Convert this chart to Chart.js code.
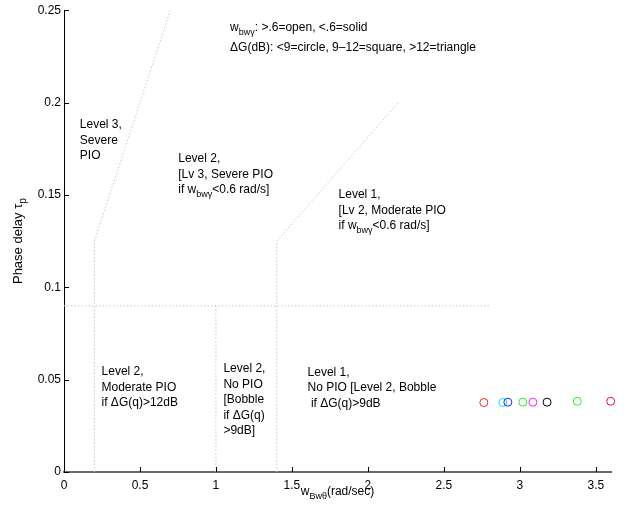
<!DOCTYPE html>
<html><head><meta charset="utf-8">
<script src="https://cdn.jsdelivr.net/npm/chart.js@4/dist/chart.umd.min.js"></script>
<style>html,body{margin:0;padding:0;background:#fff}#wrap{width:626px;height:513px}</style>
</head><body><div id="wrap"><canvas id="c" width="626" height="513"></canvas></div>
<script>
// ---- data ----
const pointX = [2.763, 2.888, 2.921, 3.020, 3.086, 3.179, 3.378, 3.598];
const pointY = [0.0376, 0.0376, 0.0378, 0.0378, 0.0378, 0.0378, 0.0383, 0.0383];
const pointColors = ['#ff2020', '#00e8f0', '#2020ff', '#20f020', '#ff20ff', '#000000', '#20f020', '#e0103c'];
const xTicks = [0, 0.5, 1, 1.5, 2, 2.5, 3, 3.5];
const xTickLabels = ['0', '0.5', '1', '1.5', '2', '2.5', '3', '3.5'];
const yTicks = [0, 0.05, 0.1, 0.15, 0.2, 0.25];
const yTickLabels = ['0', '0.05', '0.1', '0.15', '0.2', '0.25'];
// region boundaries
const boundH = [[0, 0.09], [2.8, 0.09]];
const boundL = [[0.2, 0], [0.2, 0.125], [0.7, 0.25]];
const boundM = [[1.0, 0], [1.0, 0.09]];
const boundR = [[1.4, 0], [1.4, 0.125], [2.2, 0.2]];
// annotation texts: [x, y(first baseline), lines]
const notes = [
  [1.093, 0.2385, ['w_{bwγ}: >.6=open, <.6=solid', 'ΔG(dB): <9=circle, 9–12=square, >12=triangle']],
  [0.104, 0.186, ['Level 3,', 'Severe', 'PIO']],
  [0.752, 0.1678, ['Level 2,', '[Lv 3, Severe PIO', 'if w_{bwγ}<0.6 rad/s]']],
  [1.807, 0.1482, ['Level 1,', '[Lv 2, Moderate PIO', 'if w_{bwγ}<0.6 rad/s]']],
  [0.247, 0.0525, ['Level 2,', 'Moderate PIO', 'if ΔG(q)>12dB']],
  [1.049, 0.0541, ['Level 2,', 'No PIO', '[Bobble', 'if ΔG(q)', '>9dB]']],
  [1.603, 0.0522, ['Level 1,', 'No PIO [Level 2, Bobble', ' if ΔG(q)>9dB']]
];
const xTitle = 'w_{Bwθ}(rad/sec)';
const yTitle = 'Phase delay τ_{p}';

const FONT = '"Liberation Sans", Arial, Helvetica, sans-serif';
const LINE_H = 15.5;
const toPts = a => a.map(p => ({x: p[0], y: p[1]}));
const boundStyle = {borderColor: '#c8c8c8', borderWidth: 1, borderDash: [1.5, 2], pointRadius: 0, showLine: true, fill: false};

function parseRich(s) {
  const segs = []; let i = 0;
  while (i < s.length) {
    const j = s.indexOf('_{', i);
    if (j < 0) { segs.push({t: s.slice(i), sub: false}); break; }
    if (j > i) segs.push({t: s.slice(i, j), sub: false});
    const k = s.indexOf('}', j);
    segs.push({t: s.slice(j + 2, k), sub: true});
    i = k + 1;
  }
  return segs;
}
function richWidth(ctx, s, fs) {
  let w = 0;
  for (const g of parseRich(s)) { ctx.font = (g.sub ? Math.round(fs * 0.75) : fs) + 'px ' + FONT; w += ctx.measureText(g.t).width; }
  return w;
}
function drawRich(ctx, s, x, y, fs) {
  fs = fs || 12;
  let cx = x;
  for (const g of parseRich(s)) {
    ctx.font = (g.sub ? Math.round(fs * 0.75) : fs) + 'px ' + FONT;
    ctx.fillText(g.t, cx, g.sub ? y + fs / 3 : y);
    cx += ctx.measureText(g.t).width;
  }
}

const annot = {
  id: 'annot',
  afterDraw(chart) {
    const ctx = chart.ctx, xs = chart.scales.x, ys = chart.scales.y, a = chart.chartArea;
    ctx.save();
    ctx.fillStyle = '#000'; ctx.textBaseline = 'alphabetic'; ctx.textAlign = 'left';
    // inward ticks
    ctx.strokeStyle = '#000'; ctx.lineWidth = 1;
    ctx.beginPath();
    for (const v of xTicks) { const px = Math.round(xs.getPixelForValue(v)) + 0.5; ctx.moveTo(px, a.bottom); ctx.lineTo(px, a.bottom - 5); }
    for (const v of yTicks) { const py = Math.round(ys.getPixelForValue(v)) + 0.5; ctx.moveTo(a.left, py); ctx.lineTo(a.left + 5, py); }
    ctx.stroke();
    for (const n of notes) {
      const x0 = xs.getPixelForValue(n[0]); let y = ys.getPixelForValue(n[1]);
      n[2].forEach((ln, i) => {
        if (i > 0) {
          y += LINE_H;
          if (n[2][i - 1].includes('_{')) y += 4; // subscript pushes next line down
        }
        drawRich(ctx, ln, x0, y, 12);
      });
    }
    // x title
    const wx = richWidth(ctx, xTitle, 12);
    drawRich(ctx, xTitle, (a.left + a.right) / 2 - wx / 2, 495, 12);
    // y title
    ctx.save();
    ctx.translate(22, (a.top + a.bottom) / 2);
    ctx.rotate(-Math.PI / 2);
    const wy = richWidth(ctx, yTitle, 13);
    drawRich(ctx, yTitle, -wy / 2, 0, 13);
    ctx.restore();
    ctx.restore();
  }
};

new Chart(document.getElementById('c'), {
  type: 'scatter',
  data: {
    datasets: [
      Object.assign({data: toPts(boundH)}, boundStyle),
      Object.assign({data: toPts(boundL)}, boundStyle),
      Object.assign({data: toPts(boundM)}, boundStyle),
      Object.assign({data: toPts(boundR)}, boundStyle),
      {data: pointX.map((x, i) => ({x, y: pointY[i]})), pointStyle: 'circle', pointRadius: 4,
       pointBorderWidth: 1, pointBorderColor: pointColors, pointBackgroundColor: 'rgba(0,0,0,0)', showLine: false, clip: false}
    ]
  },
  options: {
    responsive: false, animation: false, devicePixelRatio: 1,
    events: [],
    layout: {padding: {top: 10, right: 15, left: 0, bottom: 0}},
    plugins: {legend: {display: false}, tooltip: {enabled: false}},
    scales: {
      x: {
        type: 'linear', min: 0, max: 3.6,
        afterFit: s => { s.height = 41; },
        afterBuildTicks: s => { s.ticks = xTicks.map(v => ({value: v})); },
        ticks: {font: {family: FONT, size: 12}, color: '#000', padding: 6, maxRotation: 0,
                callback: (v) => xTickLabels[xTicks.indexOf(v)] ?? ''},
        grid: {display: true, drawOnChartArea: false, drawTicks: false},
        border: {display: true, color: '#6a6a6a', width: 2}
      },
      y: {
        type: 'linear', min: 0, max: 0.25,
        afterFit: s => { s.width = 64; },
        afterBuildTicks: s => { s.ticks = yTicks.map(v => ({value: v})); },
        ticks: {font: {family: FONT, size: 12}, color: '#000', padding: 3,
                callback: (v) => yTickLabels[yTicks.indexOf(v)] ?? ''},
        grid: {display: true, drawOnChartArea: false, drawTicks: false},
        border: {display: true, color: '#000', width: 1}
      }
    }
  },
  plugins: [annot]
});
</script>
</body></html>
